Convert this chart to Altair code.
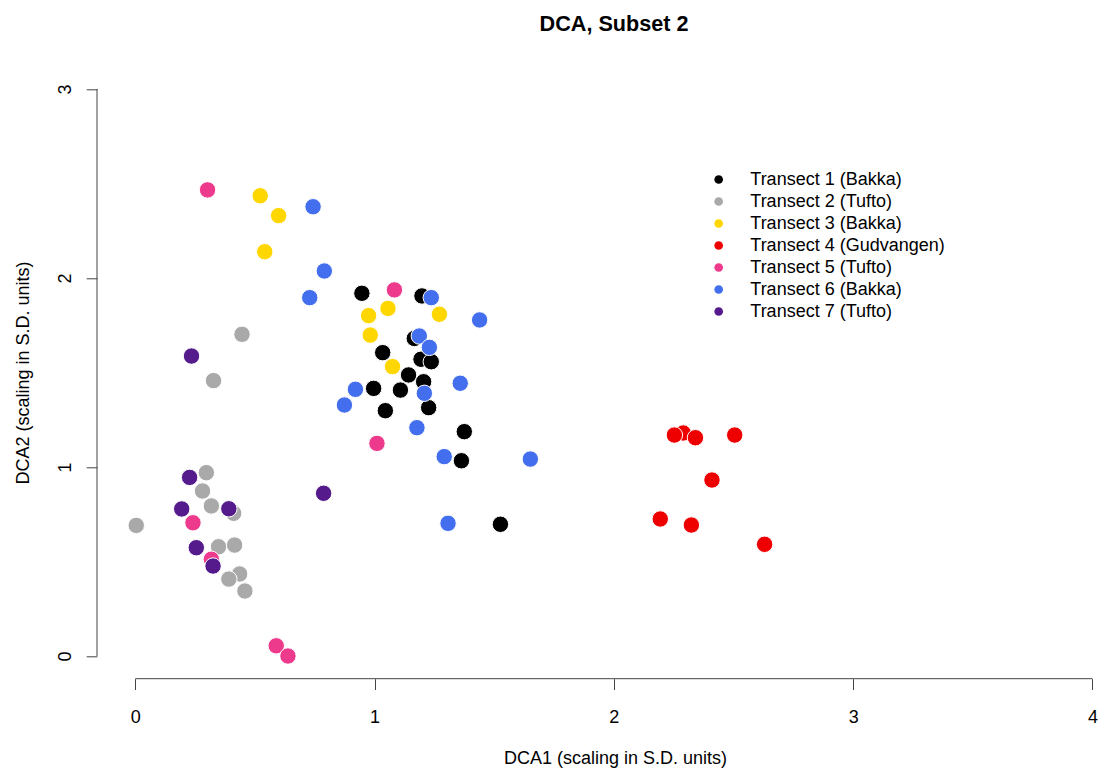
import altair as alt
import pandas as pd

transects = ["Transect 1 (Bakka)", "Transect 2 (Tufto)", "Transect 3 (Bakka)",
             "Transect 4 (Gudvangen)", "Transect 5 (Tufto)", "Transect 6 (Bakka)",
             "Transect 7 (Tufto)"]
colors = ["#000000", "#A9A9A9", "#FFD700", "#EE0000", "#EE3A8C", "#436EEE", "#551A8B"]

t1_x = [0.947, 1.198, 1.166, 1.034, 1.194, 1.237, 1.142, 1.205, 1.108, 0.996, 1.045, 1.226, 1.375, 1.363, 1.526]
t1_y = [1.919, 1.905, 1.680, 1.605, 1.570, 1.557, 1.487, 1.451, 1.407, 1.416, 1.298, 1.314, 1.187, 1.033, 0.697]

t2_x = [0.446, 0.327, 0.297, 0.281, 0.318, 0.411, 0.004, 0.348, 0.415, 0.436, 0.391, 0.458]
t2_y = [1.702, 1.457, 0.970, 0.873, 0.794, 0.755, 0.691, 0.578, 0.587, 0.434, 0.407, 0.344]

t3_x = [0.522, 0.599, 0.541, 1.056, 0.975, 1.271, 0.982, 1.075]
t3_y = [2.435, 2.330, 2.139, 1.839, 1.801, 1.808, 1.698, 1.531]

t4_x = [2.290, 2.253, 2.341, 2.505, 2.410, 2.194, 2.324, 2.630]
t4_y = [1.180, 1.169, 1.155, 1.169, 0.931, 0.725, 0.693, 0.591]

t5_x = [0.302, 1.083, 1.010, 0.241, 0.318, 0.589, 0.638]
t5_y = [2.466, 1.937, 1.125, 0.705, 0.512, 0.054, 0.000]

t6_x = [0.743, 0.790, 0.729, 1.237, 1.439, 1.187, 1.229, 0.920, 1.208, 1.358, 0.874, 1.177, 1.291, 1.651, 1.307]
t6_y = [2.377, 2.037, 1.896, 1.896, 1.778, 1.693, 1.633, 1.411, 1.390, 1.443, 1.328, 1.208, 1.055, 1.042, 0.702]

t7_x = [0.235, 0.227, 0.391, 0.194, 0.255, 0.325, 0.787]
t7_y = [1.587, 0.945, 0.779, 0.778, 0.573, 0.476, 0.861]

x_ticks = [0, 1, 2, 3, 4]
y_ticks = [0, 1, 2, 3]

groups = [(t1_x, t1_y), (t2_x, t2_y), (t3_x, t3_y), (t4_x, t4_y),
          (t5_x, t5_y), (t6_x, t6_y), (t7_x, t7_y)]
rows = []
for name, (xs, ys) in zip(transects, groups):
    for a, b in zip(xs, ys):
        rows.append({"dca1": a, "dca2": b, "transect": name})
df = pd.DataFrame(rows)

W, H = 1005, 612.4
FONT = "Liberation Sans"
x_dom = [-0.16, 4.04]
y_dom = [-0.12, 3.12]
x_scale = alt.Scale(domain=x_dom, nice=False, zero=False)
y_scale = alt.Scale(domain=y_dom, nice=False, zero=False)

x_axis = alt.Axis(values=x_ticks, format="d", title="DCA1 (scaling in S.D. units)", domain=False,
                  grid=False, tickSize=10.8, tickColor="#444444", labelFontSize=18, labelFont=FONT,
                  labelColor="black", labelPadding=19, labelFlush=False, labelBaseline="top",
                  titleFont=FONT, titleFontSize=18, titleFontWeight="normal", titleColor="black",
                  titleX=518, titleY=84.6, titleBaseline="alphabetic", titleAlign="center")
y_axis = alt.Axis(values=y_ticks, format="d", title="DCA2 (scaling in S.D. units)", domain=False,
                  grid=False, tickSize=10.8, tickColor="#444444", labelFontSize=18, labelFont=FONT,
                  labelColor="black", labelPadding=16, labelFlush=False, labelAngle=270,
                  labelAlign="center", labelBaseline="alphabetic",
                  titleFont=FONT, titleFontSize=18, titleFontWeight="normal", titleColor="black",
                  titleAngle=270, titleX=-69, titleY=H / 2, titleBaseline="alphabetic",
                  titleAlign="center")

points = alt.Chart(df).mark_point(filled=True, size=270, stroke="white", strokeWidth=1,
                                  opacity=1, shape="circle").encode(
    x=alt.X("dca1:Q", scale=x_scale, axis=x_axis),
    y=alt.Y("dca2:Q", scale=y_scale, axis=y_axis),
    fill=alt.Fill("transect:N", scale=alt.Scale(domain=transects, range=colors),
                  legend=alt.Legend(title=None, orient="none", legendX=612.7, legendY=104.2,
                                    symbolType="circle", symbolSize=75, symbolStrokeWidth=0,
                                    labelFontSize=18, labelFont=FONT, labelColor="black",
                                    labelOffset=22.6, labelLimit=0, rowPadding=4.0, padding=0)),
)

one = pd.DataFrame({"k": [0]})
xline = alt.Chart(one).mark_rule(color="#444444", strokeWidth=1).encode(
    x=alt.datum(x_ticks[0]), x2=alt.datum(x_ticks[-1]), y=alt.datum(y_dom[0]))
yline = alt.Chart(one).mark_rule(color="#444444", strokeWidth=1).encode(
    y=alt.datum(y_ticks[0]), y2=alt.datum(y_ticks[-1]), x=alt.datum(x_dom[0]))

chart = alt.layer(points, xline, yline).properties(
    width=W, height=H,
    padding={"left": 97, "top": 66.3, "right": 0, "bottom": 93.3},
    autosize=alt.AutoSizeParams(type="none"),
    title=alt.TitleParams("DCA, Subset 2", fontSize=21.6, font=FONT, fontWeight="bold",
                          anchor="middle", frame="group", dx=14.5, offset=13.3,
                          baseline="alphabetic", color="black"),
).configure_view(stroke=None)

chart.save("out.html", embed_options={"renderer": "svg", "actions": False})
